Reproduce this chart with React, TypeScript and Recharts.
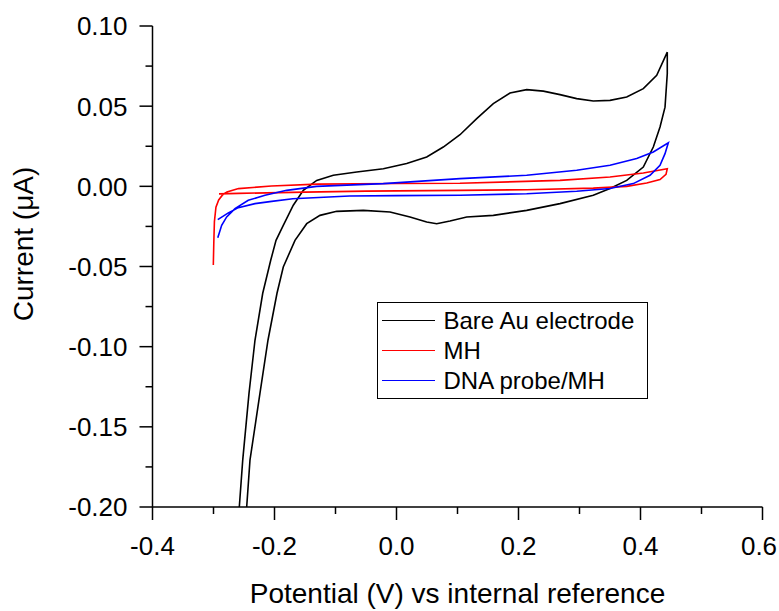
import { LineChart, Line, XAxis, YAxis, Legend, Label } from "recharts";

// Bare Au electrode: forward scan from the bottom-left, then the return scan
const bareAuPotential = [
  -0.2577, -0.2521, -0.2418, -0.232, -0.2193, -0.2062, -0.1975, -0.1856, -0.1692, -0.1528, -0.1308, -0.1036,
  -0.0652, -0.0216, 0.0167, 0.0495, 0.0767, 0.1041, 0.1315, 0.1587, 0.1861, 0.2134, 0.2407, 0.268, 0.2954,
  0.3226, 0.35, 0.3774, 0.4046, 0.4266, 0.4439,
  0.4439, 0.4402, 0.432, 0.421, 0.4046, 0.3774, 0.35, 0.3226, 0.268, 0.2134, 0.1587, 0.1151, 0.0877, 0.0659,
  0.0495, 0.0221, -0.0107, -0.0544, -0.098, -0.1254, -0.1472, -0.1664, -0.1856, -0.1959, -0.2107, -0.2238,
  -0.2402, -0.2456,
];
const bareAuCurrent = [
  -0.2, -0.1708, -0.1291, -0.096, -0.0667, -0.0461, -0.0337, -0.0243, -0.0118, -0.0025, 0.0037, 0.0069,
  0.0089, 0.011, 0.0142, 0.0183, 0.0245, 0.0322, 0.0422, 0.0516, 0.0582, 0.0603, 0.0594, 0.0572, 0.0547,
  0.0532, 0.0536, 0.0557, 0.0609, 0.0692, 0.0837,
  0.0703, 0.0494, 0.037, 0.0245, 0.012, 0.0037, -0.0014, -0.0056, -0.0108, -0.015, -0.0181, -0.0191, -0.0216,
  -0.0233, -0.0223, -0.0191, -0.016, -0.015, -0.0156, -0.0181, -0.0233, -0.0337, -0.0503, -0.0667, -0.096,
  -0.129, -0.1708, -0.2,
];

// MH
const mhPotential = [
  -0.3003, -0.2995, -0.2985, -0.296, -0.2915, -0.2855, -0.278, -0.259, -0.205, -0.13, 0.0, 0.104, 0.268, 0.35,
  0.4046, 0.4439,
  0.4418, 0.432, 0.4102, 0.3774, 0.3226, 0.2134, 0.104, -0.05, -0.15, -0.259, -0.291,
];
const mhCurrent = [
  -0.049, -0.035, -0.022, -0.013, -0.0085, -0.0055, -0.0036, -0.0014, 0.0002, 0.0014, 0.0018, 0.0019, 0.0037,
  0.0058, 0.0083, 0.011,
  0.0075, 0.0042, 0.0021, 0.0, -0.0011, -0.0021, -0.0025, -0.003, -0.0036, -0.0044, -0.0047,
];

// DNA probe/MH
const dnaPotential = [
  -0.293, -0.2866, -0.2784, -0.2648, -0.243, -0.2156, -0.18, -0.131, -0.0216, 0.104, 0.2134, 0.2954, 0.35,
  0.3938, 0.421, 0.4456,
  0.4402, 0.432, 0.4156, 0.3882, 0.35, 0.2954, 0.2134, 0.104, 0.0, -0.077, -0.17, -0.2046, -0.232, -0.2593,
  -0.2757, -0.293,
];
const dnaCurrent = [
  -0.032, -0.0243, -0.0191, -0.0139, -0.0087, -0.0056, -0.0025, 0.0, 0.0017, 0.0048, 0.0069, 0.01, 0.0131,
  0.0173, 0.0214, 0.0272,
  0.0204, 0.0131, 0.0069, 0.0017, -0.0014, -0.0031, -0.0046, -0.0056, -0.0058, -0.006, -0.0077, -0.0094,
  -0.0108, -0.0133, -0.0166, -0.0208,
];

const legendOrder = ["Bare Au electrode", "MH", "DNA probe/MH"];
const xTicks = [-0.4, -0.3, -0.2, -0.1, 0, 0.1, 0.2, 0.3, 0.4, 0.5, 0.6];
const yTicks = [-0.2, -0.175, -0.15, -0.125, -0.1, -0.075, -0.05, -0.025, 0, 0.025, 0.05, 0.075, 0.1];

const toPoints = (xs: number[], ys: number[]) => xs.map((x, i) => ({ x, y: ys[i] }));

const font = "Arial, 'Liberation Sans', sans-serif";

const YTick = (props: any) => {
  const { x, y, payload } = props;
  const v = payload.value;
  const major = Math.round(v * 1000) % 50 === 0;
  return (
    <g>
      <line x1={x - (major ? 13 : 7)} x2={x} y1={y} y2={y} stroke="#000" strokeWidth={1.5} />
      {major && (
        <text x={x - 25} y={y} dy="0.36em" textAnchor="end" fontSize={26} fontFamily={font} fill="#000">
          {v.toFixed(2)}
        </text>
      )}
    </g>
  );
};

const XTick = (props: any) => {
  const { x, y, payload } = props;
  const v = payload.value;
  const major = Math.round(v * 10) % 2 === 0;
  // keep the last label inside the 779px picture
  const tx = Math.min(x, 779 - 20);
  return (
    <g>
      <line x1={x} x2={x} y1={y} y2={y + (major ? 13 : 7)} stroke="#000" strokeWidth={1.5} />
      {major && (
        <text x={tx} y={y + 48} textAnchor="middle" fontSize={26} fontFamily={font} fill="#000">
          {v.toFixed(1)}
        </text>
      )}
    </g>
  );
};

const LegendBox = (props: any) => {
  const items = [...(props.payload || [])].sort(
    (a: any, b: any) => legendOrder.indexOf(a.value) - legendOrder.indexOf(b.value)
  );
  return (
    <div
      style={{
        border: "1.5px solid #000",
        boxSizing: "border-box",
        width: 271,
        height: 97,
        paddingTop: 2.5,
        background: "#fff",
        fontFamily: font,
        fontSize: 24,
      }}
    >
      {items.map((entry: any) => (
        <div key={entry.value} style={{ display: "flex", alignItems: "center", height: 30 }}>
          <span style={{ marginLeft: 4, width: 52.5, height: 1.5, background: entry.color }} />
          <span style={{ marginLeft: 9, lineHeight: "30px", color: "#000" }}>{entry.value}</span>
        </div>
      ))}
    </div>
  );
};

export default function App() {
  return (
    <div style={{ position: "absolute", left: 0, top: 0, background: "#fff" }}>
      <LineChart width={779} height={611} margin={{ top: 26, right: 16.5, bottom: 0, left: 0 }}>
        <XAxis
          type="number"
          dataKey="x"
          domain={[-0.4, 0.6]}
          ticks={xTicks}
          interval={0}
          allowDataOverflow
          height={104}
          tickSize={0}
          tickMargin={0}
          tickLine={false}
          axisLine={{ stroke: "#000", strokeWidth: 1.5 }}
          tick={<XTick />}
        >
          <Label
            content={(p: any) => {
              const vb = p.viewBox;
              return (
                <text x={vb.x + vb.width / 2} y={603} textAnchor="middle" fontSize={28} fontFamily={font} fill="#000">
                  Potential (V) vs internal reference
                </text>
              );
            }}
          />
        </XAxis>
        <YAxis
          type="number"
          dataKey="y"
          domain={[-0.2, 0.1]}
          ticks={yTicks}
          interval={0}
          allowDataOverflow
          width={152.5}
          tickSize={0}
          tickMargin={0}
          tickLine={false}
          axisLine={{ stroke: "#000", strokeWidth: 1.5 }}
          tick={<YTick />}
        >
          <Label
            content={(p: any) => {
              const vb = p.viewBox;
              const cx = 33;
              const cy = vb.y + vb.height / 2 - 22.5;
              return (
                <text
                  x={cx}
                  y={cy}
                  transform={`rotate(-90 ${cx} ${cy})`}
                  textAnchor="middle"
                  fontSize={28}
                  fontFamily={font}
                  fill="#000"
                >
                  Current (μA)
                </text>
              );
            }}
          />
        </YAxis>
        <Legend
          layout="vertical"
          align="center"
          verticalAlign="middle"
          wrapperStyle={{ left: 377, top: 302, width: 271, height: 97 }}
          content={<LegendBox />}
        />
        <Line
          data={toPoints(bareAuPotential, bareAuCurrent)}
          dataKey="y"
          name="Bare Au electrode"
          type="linear"
          stroke="#000000"
          strokeWidth={1.6}
          dot={false}
          isAnimationActive={false}
        />
        <Line
          data={toPoints(mhPotential, mhCurrent)}
          dataKey="y"
          name="MH"
          type="linear"
          stroke="#ff0000"
          strokeWidth={1.6}
          dot={false}
          isAnimationActive={false}
        />
        <Line
          data={toPoints(dnaPotential, dnaCurrent)}
          dataKey="y"
          name="DNA probe/MH"
          type="linear"
          stroke="#0000ff"
          strokeWidth={1.6}
          dot={false}
          isAnimationActive={false}
        />
      </LineChart>
    </div>
  );
}
